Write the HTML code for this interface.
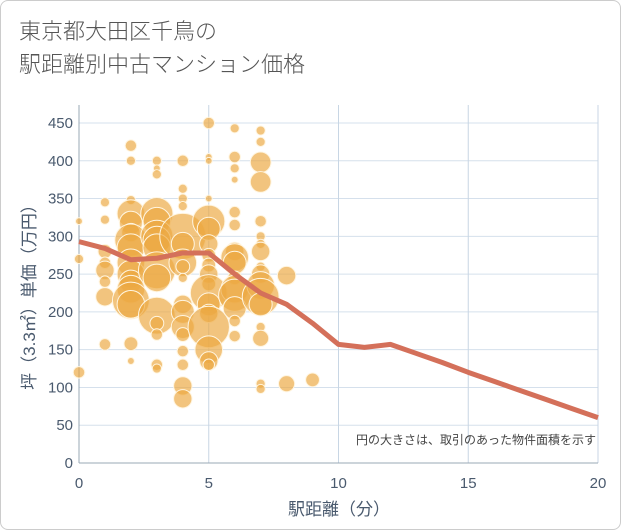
<!DOCTYPE html>
<html><head><meta charset="utf-8"><style>
body{margin:0;background:#fff;}
#wrap{position:relative;width:619px;height:528px;border:1px solid #ccc;border-radius:8px;background:#fff;overflow:hidden;font-family:"Liberation Sans","Noto Sans CJK JP",sans-serif;}
#title{position:absolute;left:18px;top:13px;font-size:22px;line-height:33px;color:#555;font-family:"Noto Sans CJK JP",sans-serif;font-weight:300;}
</style></head><body>
<div id="wrap">
<div id="title">東京都大田区千鳥の<br>駅距離別中古マンション価格</div>
<svg id="chart" width="621" height="530" style="position:absolute;left:0;top:0"></svg>
</div>
<script>
const xTicks=[0,5,10,15,20];
const yTicks=[0,50,100,150,200,250,300,350,400,450];
const lineX=[0,1,2,3,4,5,6,7,8,9,10,11,12,13,14,15,16,17,18,19,20];
const lineY=[293,284,269,271,278,278,250,225,210,185,157,153,157,145,133,120,108,96,84,72,60];
const bubX=[0,0,0,1,1,1,1,1,1,1,1,2,2,2,2,2,2,2,2,2,2,2,2,2,2,2,2,3,3,3,3,3,3,3,3,3,3,3,3,3,3,3,4,4,4,4,4,4,4,4,4,4,4,4,4,4,4,4,4,5,5,5,5,5,5,5,5,5,5,5,5,5,5,5,5,5,5,6,6,6,6,6,6,6,6,6,6,6,6,6,6,6,7,7,7,7,7,7,7,7,7,7,7,7,7,7,7,7,7,8,8,9];
const bubY=[320,270,120,345,322,280,265,255,240,220,157,420,400,348,330,318,305,295,285,265,250,240,230,215,210,158,135,400,390,382,330,320,300,295,285,255,245,195,185,170,130,125,400,363,350,340,300,290,265,260,245,210,200,180,170,148,130,102,85,450,405,400,350,320,310,290,275,262,250,237,225,210,198,180,150,135,130,443,405,390,375,332,315,280,272,265,245,230,222,205,188,168,440,425,398,372,320,300,290,280,260,250,235,220,210,180,165,105,98,248,105,110];
const bubR=[3,4,5,4,4,6,5,8,5,8,5,5,4,4,12,10,8,14,12,12,12,10,12,16,12,6,3,4,3,4,14,12,14,12,12,16,12,16,6,5,5,4,5,4,4,4,20,10,12,6,4,8,10,10,6,5,5,8,8,5,3,3,3,14,10,8,6,6,8,6,16,10,8,18,12,8,5,4,5,4,3,5,5,8,12,10,6,12,14,10,5,5,4,4,9,9,5,4,4,8,4,8,12,16,10,4,7,4,4,8,7,6];
const X0=78,X1=597,Y0=462,Y1=122;
const sx=v=>X0+(v-0)/20*(X1-X0);
const sy=v=>Y0-v/450*(Y0-Y1);
const svg=document.getElementById('chart');
const NS='http://www.w3.org/2000/svg';
function mk(t,a){const e=document.createElementNS(NS,t);for(const k in a)e.setAttribute(k,a[k]);svg.appendChild(e);return e;}
let bg=mk('rect',{x:X0,y:Y1-18,width:X1-X0,height:Y0-Y1+18,fill:'#fff'});


yTicks.forEach(v=>{
 const l=mk('line',{x1:X0,x2:X1,y1:sy(v),y2:sy(v),stroke:'#d5e0ec','stroke-width':1});
 
 
 const t=mk('text',{x:72,y:sy(v)+5,'text-anchor':'end','font-size':15,fill:'#4a5a6e'});
 t.textContent=v;
 
 
});
xTicks.forEach(v=>{
 const l=mk('line',{x1:sx(v),x2:sx(v),y1:Y1-18,y2:Y0,stroke:'#c8d6e4','stroke-width':1});
 
 
 const t=mk('text',{x:sx(v),y:487,'text-anchor':'middle','font-size':15,fill:'#4a5a6e'});
 t.textContent=v;
 
 
});
let ax=mk('line',{x1:X0,x2:X0,y1:Y1-18,y2:Y0,stroke:'#9aa8b6','stroke-width':1});


let ax2=mk('line',{x1:X0,x2:X1,y1:Y0,y2:Y0,stroke:'#9aa8b6','stroke-width':1});


bubX.forEach((v,i)=>{
 const c=mk('circle',{cx:sx(v),cy:sy(bubY[i]),r:bubR[i]*1.15,fill:'rgba(236,168,65,0.68)',stroke:'#fff5e0','stroke-width':1});
 
 
});
const p=mk('polyline',{points:lineX.map((v,i)=>sx(v)+','+sy(lineY[i])).join(' '),fill:'none',stroke:'#d4705a','stroke-width':5,'stroke-linejoin':'round'});


const n=mk('text',{x:595,y:443,'text-anchor':'end','font-size':12,fill:'#444'});
n.textContent='円の大きさは、取引のあった物件面積を示す';


const xt=mk('text',{x:338,y:514,'text-anchor':'middle','font-size':17,fill:'#4a5a6e'});
xt.textContent='駅距離（分）';


const yt=mk('text',{x:0,y:0,'text-anchor':'middle','font-size':17,fill:'#4a5a6e',transform:'translate(34,292) rotate(-90)'});
yt.textContent='坪（3.3㎡）単価（万円）';


</script>
</body></html>
